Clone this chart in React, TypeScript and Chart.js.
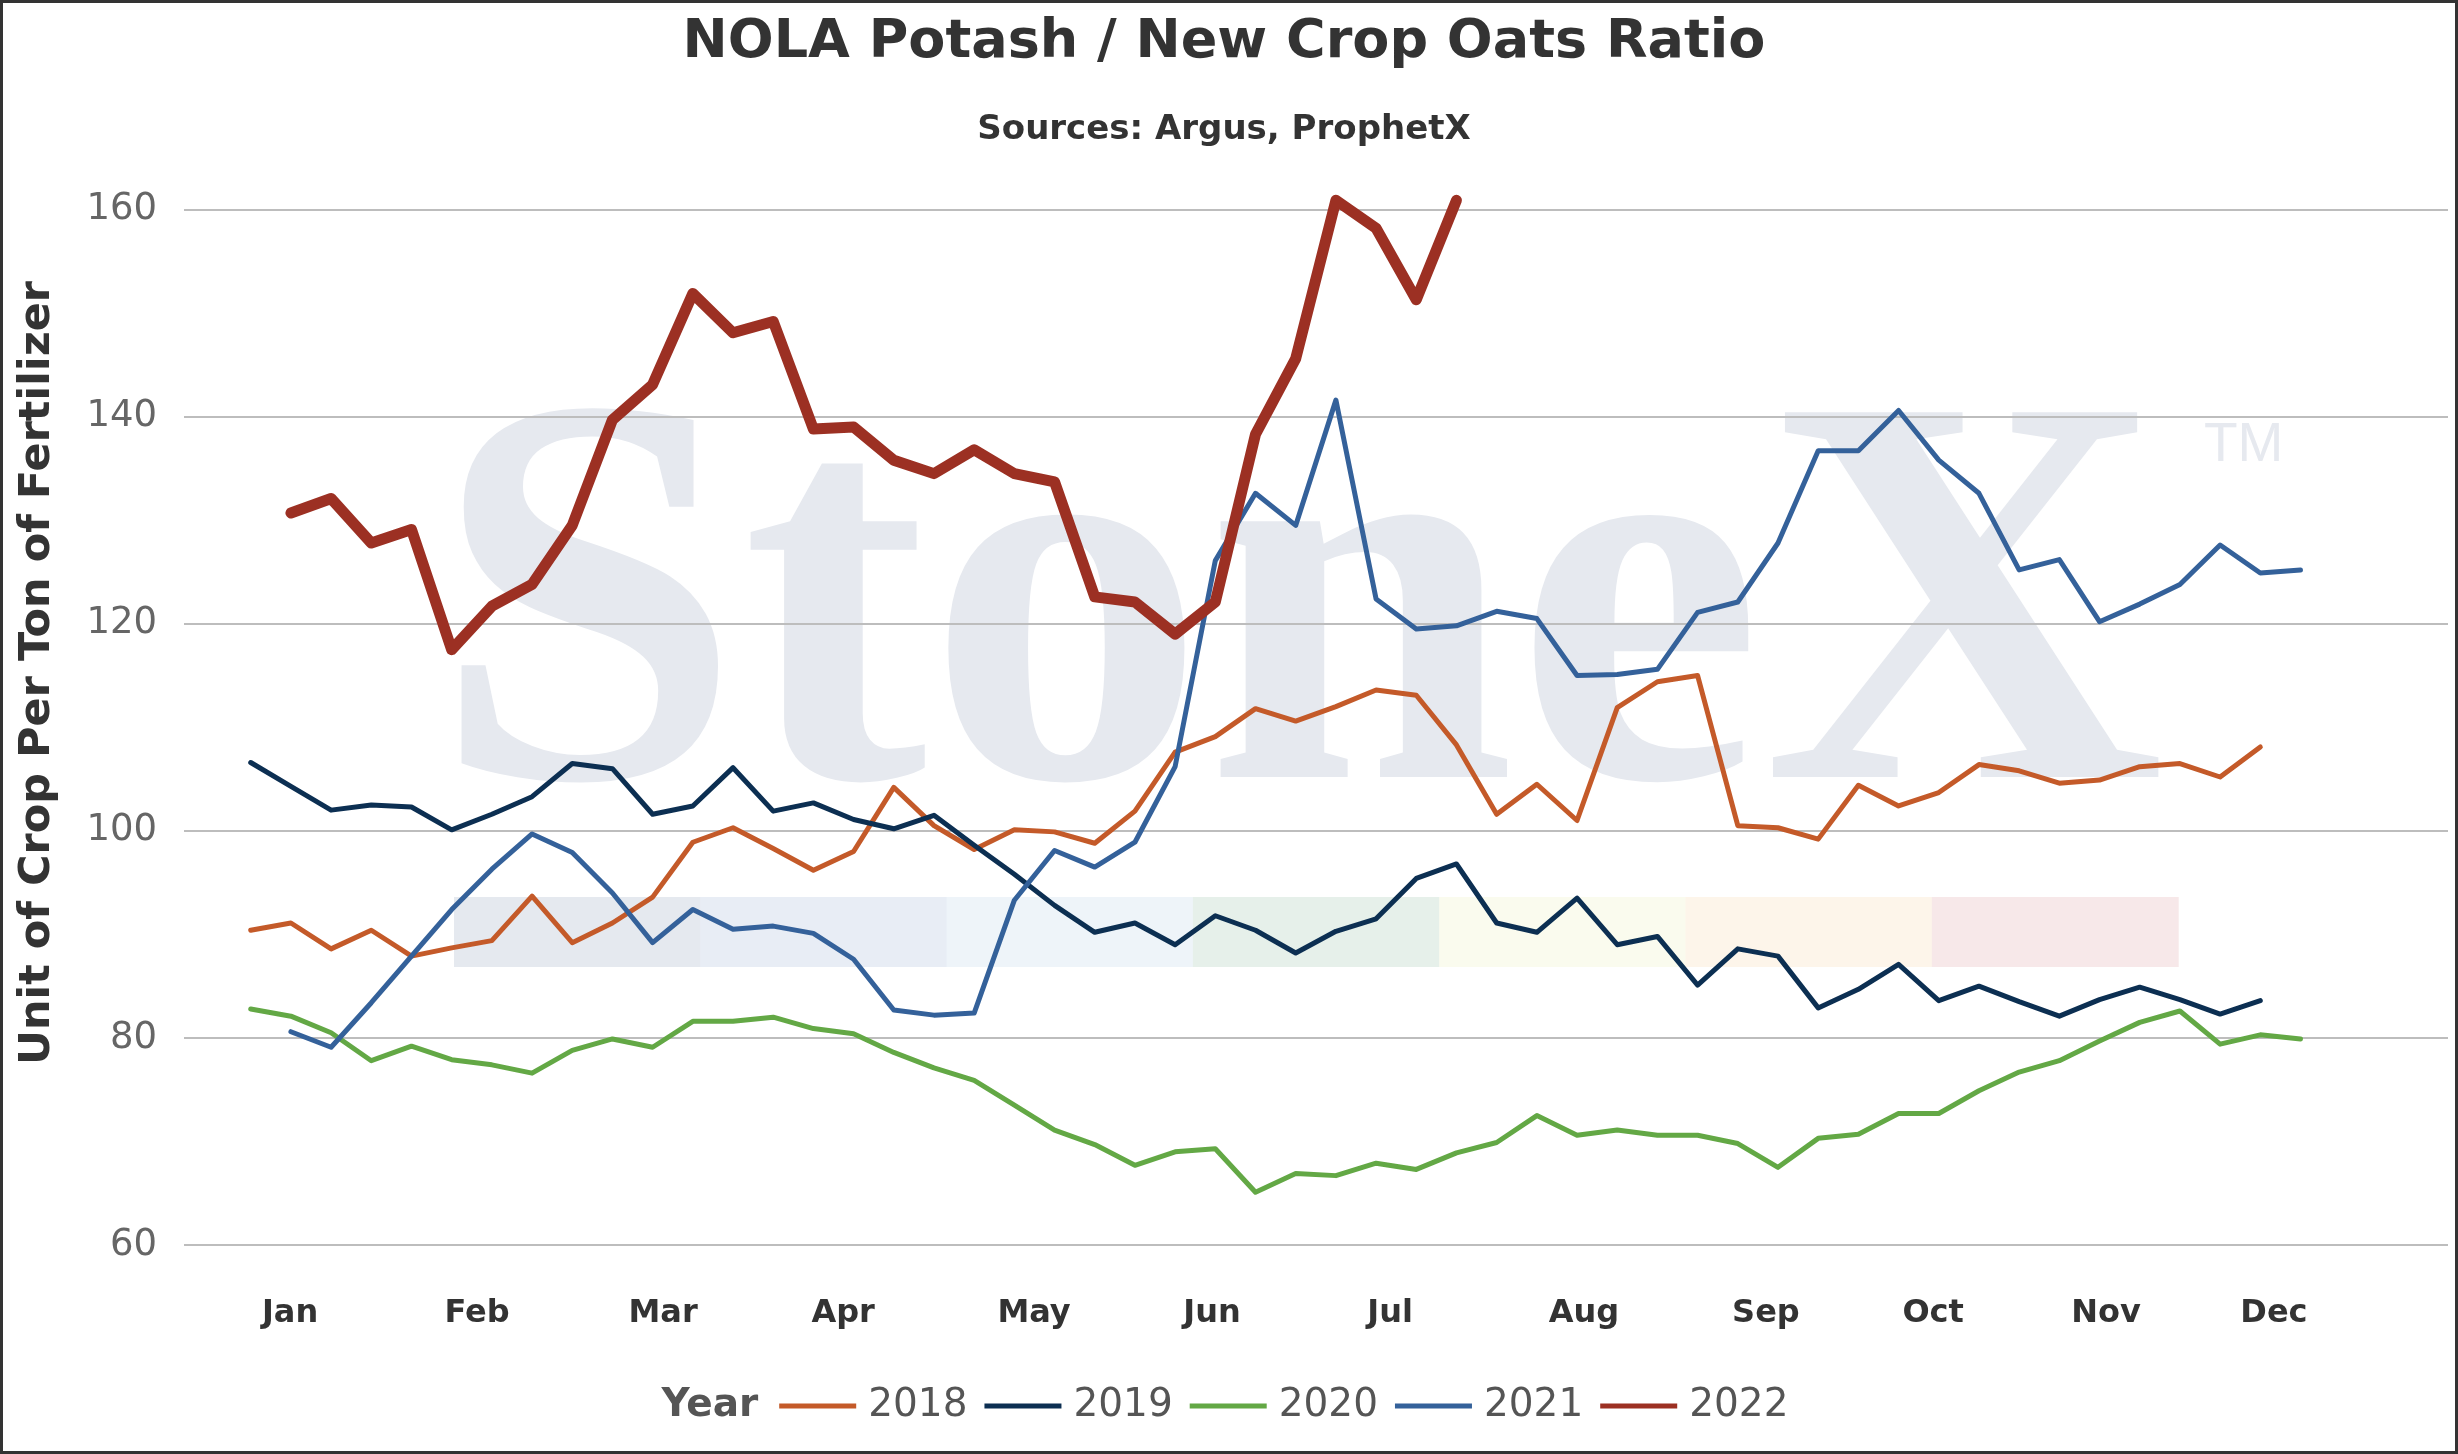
import React, { useEffect, useRef } from "react";
import { Chart, registerables } from "chart.js";

Chart.register(...registerables);

const W = 2458;
const H = 1454;
const FONT = "'DejaVu Sans', 'Noto Sans', sans-serif";

const TITLE = "NOLA Potash / New Crop Oats Ratio";
const SUBTITLE = "Sources: Argus, ProphetX";
const Y_TITLE = "Unit of Crop Per Ton of Fertilizer";
const LEGEND_TITLE = "Year";

// week numbers (category positions on the x axis)
const WEEKS = [
  1, 2, 3, 4, 5, 6, 7, 8, 9, 10, 11, 12, 13, 14, 15, 16, 17, 18, 19, 20, 21, 22, 23, 24, 25, 26,
  27, 28, 29, 30, 31, 32, 33, 34, 35, 36, 37, 38, 39, 40, 41, 42, 43, 44, 45, 46, 47, 48, 49, 50, 51, 52,
];

const MONTH_LABELS = ["Jan", "Feb", "Mar", "Apr", "May", "Jun", "Jul", "Aug", "Sep", "Oct", "Nov", "Dec"];
const MONTH_TICK_WEEKS = [1.98, 6.63, 11.26, 15.74, 20.49, 24.92, 29.35, 34.17, 38.7, 42.86, 47.16, 51.34];
const Y_TICKS = [60, 80, 100, 120, 140, 160];

const SERIES_NAMES = ["2018", "2019", "2020", "2021", "2022"];
const SERIES_COLORS = ["#c45a29", "#0c2f52", "#63a845", "#34619a", "#9c3023"];
const SERIES_WIDTHS = [5, 5, 5, 5, 11];

const DATA_2018 = [
  90.4, 91.1, 88.6, 90.4, 87.9, 88.7, 89.4, 93.7, 89.2, 91.1,
  93.6, 98.9, 100.3, 98.3, 96.2, 98.0, 104.2, 100.5, 98.2, 100.1,
  99.9, 98.8, 101.9, 107.6, 109.1, 111.8, 110.6, 112.0, 113.6, 113.1,
  108.3, 101.6, 104.5, 101.0, 111.9, 114.4, 115.0, 100.5, 100.3, 99.2,
  104.4, 102.4, 103.7, 106.4, 105.8, 104.6, 104.9, 106.2, 106.5, 105.2,
  108.1,
];
const DATA_2019 = [
  106.6, 104.3, 102.0, 102.5, 102.3, 100.1, 101.6, 103.3, 106.5, 106.0,
  101.6, 102.4, 106.1, 101.9, 102.7, 101.1, 100.2, 101.5, 98.6, 95.8,
  92.8, 90.2, 91.1, 89.0, 91.8, 90.4, 88.2, 90.3, 91.5, 95.4,
  96.8, 91.1, 90.2, 93.5, 89.0, 89.8, 85.1, 88.6, 87.9, 82.9,
  84.7, 87.1, 83.6, 85.0, 83.5, 82.1, 83.7, 84.9, 83.7, 82.3,
  83.6,
];
const DATA_2020 = [
  82.8, 82.1, 80.5, 77.8, 79.2, 77.9, 77.4, 76.6, 78.8, 79.9,
  79.1, 81.6, 81.6, 82.0, 80.9, 80.4, 78.6, 77.1, 75.9, 73.5,
  71.1, 69.7, 67.7, 69.0, 69.3, 65.1, 66.9, 66.7, 67.9, 67.3,
  68.9, 69.9, 72.5, 70.6, 71.1, 70.6, 70.6, 69.8, 67.5, 70.3,
  70.7, 72.7, 72.7, 74.9, 76.7, 77.8, 79.7, 81.5, 82.6, 79.4,
  80.3, 79.9,
];
const DATA_2021 = [
  null, 80.6, 79.1, 83.4, 87.9, 92.4, 96.3, 99.7, 97.9, 94.0,
  89.2, 92.4, 90.5, 90.8, 90.1, 87.6, 82.7, 82.2, 82.4, 93.3,
  98.1, 96.5, 98.9, 106.2, 126.1, 132.6, 129.5, 141.6, 122.4, 119.5,
  119.8, 121.2, 120.5, 115.0, 115.1, 115.6, 121.1, 122.1, 127.8, 136.7,
  136.7, 140.6, 135.8, 132.6, 125.2, 126.2, 120.2, 121.9, 123.8, 127.6,
  124.9, 125.2,
];
const DATA_2022 = [
  null, 130.7, 132.1, 127.8, 129.1, 117.5, 121.7, 123.8, 129.5, 139.7,
  143.1, 151.9, 148.1, 149.2, 138.8, 139.0, 135.8, 134.5, 136.8, 134.5,
  133.7, 122.6, 122.1, 119.0, 122.1, 138.3, 145.6, 160.9, 158.2, 151.3,
  160.9,
];
const SERIES_DATA = [DATA_2018, DATA_2019, DATA_2020, DATA_2021, DATA_2022];

// watermark (StoneX logo) decoration
const BAND_COLORS = ["#e5e9ef", "#e8edf5", "#eef4f9", "#e6f0ea", "#fafbee", "#fdf5ea", "#f7e8e9"];

const decorPlugin = {
  id: "decor",
  beforeDraw(chart: any) {
    const { ctx, width, height } = chart;
    ctx.save();
    ctx.fillStyle = "#ffffff";
    ctx.fillRect(0, 0, width, height);

    // colour bars of the logo
    const bx = 454;
    const bw = 246.3;
    BAND_COLORS.forEach((c, k) => {
      ctx.fillStyle = c;
      ctx.fillRect(bx + k * bw, 897, bw + 0.6, 70);
    });

    // "StoneX" word mark
    ctx.fillStyle = "#e6e9ef";
    ctx.textBaseline = "alphabetic";
    ctx.textAlign = "left";
    const fam = "'Liberation Serif', 'DejaVu Serif', serif";
    ctx.font = `bold 560px ${fam}`;
    let m = ctx.measureText("StoneX");
    const vis = m.actualBoundingBoxRight + m.actualBoundingBoxLeft;
    const size = (560 * 1705) / vis;
    ctx.font = `bold ${size}px ${fam}`;
    m = ctx.measureText("StoneX");
    ctx.fillText("StoneX", 458 + m.actualBoundingBoxLeft, 777);

    ctx.font = "55px 'Liberation Sans', Arial, sans-serif";
    ctx.fillText("TM", 2204, 461);
    ctx.restore();
  },
  afterDraw(chart: any) {
    const { ctx, width, height } = chart;
    ctx.save();

    // y axis title
    ctx.translate(38, 673);
    ctx.rotate(-Math.PI / 2);
    ctx.fillStyle = "#333333";
    ctx.font = `bold 43px ${FONT}`;
    ctx.textAlign = "center";
    ctx.textBaseline = "middle";
    ctx.fillText(Y_TITLE, 0, 0);
    ctx.restore();

    // legend
    ctx.save();
    const cy = 1406;
    const SYM = 77;
    const GAP1 = 12;
    const GAP2 = 17;
    const GAPT = 21;
    ctx.textBaseline = "middle";
    ctx.textAlign = "left";
    ctx.font = `bold 39px ${FONT}`;
    const titleW = ctx.measureText(LEGEND_TITLE).width;
    ctx.font = `39px ${FONT}`;
    const ws = SERIES_NAMES.map((n) => ctx.measureText(n).width);
    let total = titleW + GAPT;
    ws.forEach((w, k) => {
      total += SYM + GAP1 + w + (k < ws.length - 1 ? GAP2 : 0);
    });
    let x = width / 2 - 4 - total / 2;
    ctx.fillStyle = "#555555";
    ctx.font = `bold 39px ${FONT}`;
    ctx.fillText(LEGEND_TITLE, x, cy);
    x += titleW + GAPT;
    ctx.font = `39px ${FONT}`;
    SERIES_NAMES.forEach((n, k) => {
      ctx.fillStyle = SERIES_COLORS[k];
      ctx.fillRect(x, cy - 2.5, SYM, 5);
      x += SYM + GAP1;
      ctx.fillStyle = "#555555";
      ctx.fillText(n, x, cy);
      x += ws[k] + GAP2;
    });
    ctx.restore();

    // outer border
    ctx.save();
    ctx.strokeStyle = "#333333";
    ctx.lineWidth = 3;
    ctx.strokeRect(1.5, 1.5, width - 3, height - 3);
    ctx.restore();
  },
};

export default function App() {
  const ref = useRef<HTMLCanvasElement | null>(null);

  useEffect(() => {
    document.body.style.margin = "0";
    const canvas = ref.current;
    if (!canvas) return;
    const chart = new Chart(canvas, {
      type: "line",
      data: {
        labels: WEEKS,
        datasets: SERIES_NAMES.map((name, k) => ({
          label: name,
          data: SERIES_DATA[k],
          borderColor: SERIES_COLORS[k],
          backgroundColor: SERIES_COLORS[k],
          borderWidth: SERIES_WIDTHS[k],
          pointRadius: 0,
          pointHoverRadius: 0,
          tension: 0,
          fill: false,
          spanGaps: false,
          borderJoinStyle: "round",
          borderCapStyle: "round",
          clip: false,
          order: SERIES_NAMES.length - 1 - k,
        })),
      },
      options: {
        responsive: false,
        animation: false,
        devicePixelRatio: 1,
        events: [],
        layout: { padding: { left: 0, right: 10, top: 0, bottom: 79 } },
        plugins: {
          legend: { display: false },
          tooltip: { enabled: false },
          title: {
            display: true,
            text: TITLE,
            color: "#333333",
            font: { family: FONT, size: 54, weight: "bold", lineHeight: 1.2 },
            padding: { top: 11, bottom: 0 },
          },
          subtitle: {
            display: true,
            text: SUBTITLE,
            color: "#333333",
            font: { family: FONT, size: 34, weight: "bold", lineHeight: 1.2 },
            padding: { top: 34, bottom: 59 },
          },
        },
        scales: {
          x: {
            type: "linear",
            min: -0.66,
            max: 55.67,
            grid: { display: false },
            border: { display: false },
            afterBuildTicks: (scale: any) => {
              scale.ticks = MONTH_TICK_WEEKS.map((v) => ({ value: v }));
            },
            afterFit: (scale: any) => {
              scale.height = 130;
            },
            ticks: {
              autoSkip: false,
              maxRotation: 0,
              minRotation: 0,
              padding: 41,
              color: "#333333",
              font: { family: FONT, size: 32, weight: "bold", lineHeight: 1.2 },
              callback: (_v: any, i: number) => MONTH_LABELS[i],
            },
          },
          y: {
            type: "linear",
            min: 60,
            max: 160,
            afterBuildTicks: (scale: any) => {
              scale.ticks = Y_TICKS.map((v) => ({ value: v }));
            },
            afterFit: (scale: any) => {
              scale.width = 184;
            },
            grid: { color: "#bdbdbd", lineWidth: 2, drawTicks: false },
            border: { display: false },
            ticks: {
              padding: 27,
              color: "#666666",
              font: { family: FONT, size: 37, lineHeight: 1.2 },
            },
          },
        },
      },
      plugins: [decorPlugin],
    } as any);
    return () => chart.destroy();
  }, []);

  return (
    <div style={{ position: "fixed", left: 0, top: 0, width: W, height: H, background: "#fff" }}>
      <canvas ref={ref} width={W} height={H} style={{ display: "block", width: W, height: H }} />
    </div>
  );
}
